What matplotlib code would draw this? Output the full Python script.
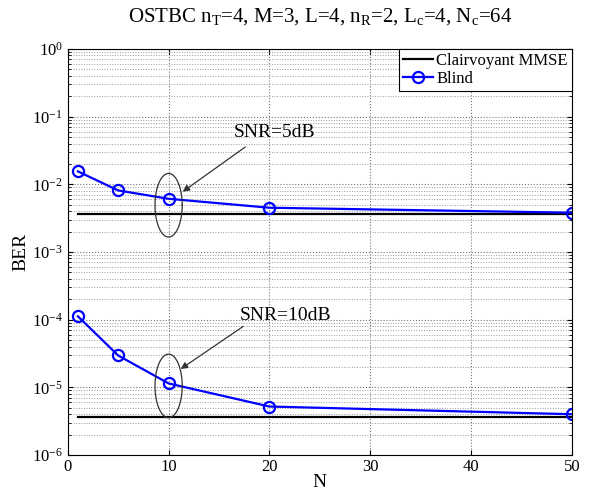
import numpy as np
import matplotlib.pyplot as plt

plt.rcParams['font.family'] = ['Liberation Serif', 'DejaVu Serif']
plt.rcParams['mathtext.fontset'] = 'custom'
plt.rcParams['mathtext.rm'] = 'Liberation Serif'
plt.rcParams['mathtext.it'] = 'Liberation Serif'

# data
N = [1, 5, 10, 20, 50]
blind_5dB = [0.0155, 0.0081, 0.0061, 0.0045, 0.0038]
blind_10dB = [1.12e-4, 2.95e-5, 1.14e-5, 5.2e-6, 4.0e-6]
mmse_5dB = 0.0036
mmse_10dB = 3.6e-6

fig = plt.figure(figsize=(6, 4.94), dpi=100)
ax = fig.add_axes([0.113, 0.079, 0.84, 0.822])

ax.plot([N[0], N[-1]], [mmse_5dB, mmse_5dB], 'k-', lw=1.6, label='Clairvoyant MMSE')
ax.plot(N, blind_5dB, 'o-', color='#0000ff', lw=1.6, ms=8, mfc='none', mew=1.6, label='Blind')
ax.plot([N[0], N[-1]], [mmse_10dB, mmse_10dB], 'k-', lw=1.6)
ax.plot(N, blind_10dB, 'o-', color='#0000ff', lw=1.6, ms=8, mfc='none', mew=1.6)

ax.set_yscale('log')
ax.set_xlim(0, 50)
ax.set_ylim(1e-6, 1)
ax.set_xticks([0, 10, 20, 30, 40, 50])
ax.set_yticks([1e-6, 1e-5, 1e-4, 1e-3, 1e-2, 1e-1, 1])
ax.grid(True, which='major', axis='both', ls=':', color='#777777', lw=0.8)
ax.grid(True, which='minor', axis='y', ls=':', color='#999999', lw=0.7)
ax.tick_params(labelsize=12, direction='in', which='both', top=True, right=True)
ax.tick_params(axis='x', pad=3)

ax.set_xlabel('N', fontsize=14, labelpad=-1)
ax.set_ylabel('BER', fontsize=14, labelpad=2)
ax.set_title(r'OSTBC n$_{\mathrm{T}}$=4, M=3, L=4, n$_{\mathrm{R}}$=2, L$_{\mathrm{c}}$=4, N$_{\mathrm{c}}$=64',
             fontsize=15, pad=20)

leg = ax.legend(loc='upper right', fontsize=12, fancybox=False, framealpha=1,
                edgecolor='black', borderaxespad=0, handlelength=1.8,
                handletextpad=0.2, borderpad=0.25, labelspacing=0.1)
leg.get_frame().set_linewidth(0.8)

# ellipses around the N=10 marks (drawn in log space)
t = np.linspace(0, 2 * np.pi, 200)
for cy in (-2.31, -4.98):
    ax.plot(10 + 1.35 * np.cos(t), 10 ** (cy + 0.47 * np.sin(t)), color='#333333', lw=0.9)

arrow = dict(arrowstyle='-|>', color='#333333', lw=0.9, shrinkA=0, shrinkB=0, mutation_scale=10)
ax.text(20.5, 10**-1.24, 'SNR=5dB', fontsize=14, ha='center', va='center')
ax.annotate('', xy=(11.4, 10**-2.11), xytext=(17.6, 10**-1.45), arrowprops=arrow)
ax.text(21.6, 10**-3.94, 'SNR=10dB', fontsize=14, ha='center', va='center')
ax.annotate('', xy=(11.2, 10**-4.73), xytext=(17.4, 10**-4.10), arrowprops=arrow)

fig.savefig('out.png', dpi=100)
